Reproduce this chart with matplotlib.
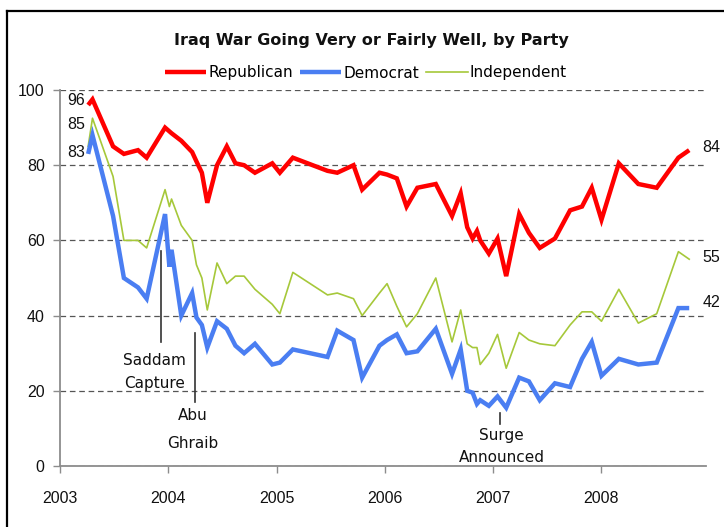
import matplotlib
matplotlib.use("Agg")
import matplotlib.pyplot as plt
from matplotlib.lines import Line2D

# ---------------- data ----------------
dates = [2003.26, 2003.30, 2003.49, 2003.59, 2003.72, 2003.80, 2003.97, 2004.01, 2004.03,
         2004.12, 2004.22, 2004.26, 2004.31, 2004.36, 2004.45, 2004.54, 2004.62, 2004.70,
         2004.80, 2004.96, 2005.03, 2005.15, 2005.47, 2005.56, 2005.71, 2005.79, 2005.95,
         2006.02, 2006.11, 2006.20, 2006.30, 2006.47, 2006.62, 2006.70, 2006.76, 2006.81,
         2006.85, 2006.88, 2006.96, 2007.04, 2007.12, 2007.24, 2007.33, 2007.43, 2007.57,
         2007.71, 2007.82, 2007.91, 2008.00, 2008.16, 2008.34, 2008.51, 2008.71, 2008.81]

republican = [96, 97.5, 85, 83, 84, 82, 90, 89, 88.5, 86.5, 83.5, 81, 78, 70, 80, 85, 80.5, 80,
              78, 80.5, 78, 82, 78.5, 78, 80, 73.5, 78, 77.5, 76.5, 69, 74, 75, 66.5, 72.5,
              63.5, 60.5, 62.5, 60, 56.5, 60.5, 50.5, 67, 62, 58, 60.5, 68, 69, 74, 65.5,
              80.5, 75, 74, 82, 84]

democrat = [83, 88, 66.5, 50, 47.5, 44.5, 67, 53, 57.5, 40, 46, 39.5, 37.5, 31.5, 38.5, 36.5,
            32, 30, 32.5, 27, 27.5, 31, 29, 36, 33.5, 23.5, 32, 33.5, 35, 30, 30.5, 36.5,
            24.5, 31, 20, 19.5, 16.5, 17.5, 16, 18.5, 15.5, 23.5, 22.5, 17.5, 22, 21, 28.5,
            33, 24, 28.5, 27, 27.5, 42, 42]

independent = [85, 92.5, 77, 60, 60, 58, 73.5, 69, 71, 64, 60, 53.5, 50, 41.5, 54, 48.5, 50.5,
               50.5, 47, 43, 40.5, 51.5, 45.5, 46, 44.5, 40, 46, 48.5, 42.5, 37, 40.5, 50, 33,
               41.5, 32.5, 31.5, 31.5, 27, 30, 35, 26, 35.5, 33.5, 32.5, 32, 37.5, 41, 41,
               38.5, 47, 38, 40.5, 57, 55]

series_names = ["Republican", "Democrat", "Independent"]
start_labels = ["96", "85", "83"]
end_labels = ["84", "55", "42"]
year_ticks = [2003, 2004, 2005, 2006, 2007, 2008]
y_ticks = [0, 20, 40, 60, 80, 100]

# ---------------- figure ----------------
W, H = 724, 527
fig = plt.figure(figsize=(W / 100, H / 100), dpi=100)
fig.patch.set_facecolor("white")

ax = fig.add_axes([60 / W, 1 - 466 / H, (706 - 60) / W, (466 - 90) / H])
ax.set_xlim(2003, 2008.965)
ax.set_ylim(0, 100)

RED = "#ff0000"
BLUE = "#4a7ef2"
GREEN = "#a6c83a"

l_r, = ax.plot(dates, republican, color=RED, lw=3.2, solid_joinstyle="miter",
               solid_capstyle="butt", zorder=4, label=series_names[0])
l_d, = ax.plot(dates, democrat, color=BLUE, lw=3.2, solid_joinstyle="miter",
               solid_capstyle="butt", zorder=4, label=series_names[1])
l_i, = ax.plot(dates, independent, color=GREEN, lw=1.2, zorder=3, label=series_names[2])

# grid & spines
ax.set_yticks(y_ticks)
ax.set_xticks(year_ticks)
ax.grid(axis="y", linestyle=(0, (4.5, 3)), color="#555555", lw=0.9)
ax.grid(axis="x", visible=False)
ax.set_axisbelow(True)
for s in ["top", "right"]:
    ax.spines[s].set_visible(False)
for s in ["left", "bottom"]:
    ax.spines[s].set_color("#8c8c8c")
    ax.spines[s].set_linewidth(1.3)

tickfont = "Liberation Sans"
ax.tick_params(axis="y", length=5, width=1, color="#8c8c8c", pad=6,
               labelsize=11.5, labelcolor="#111111")
ax.tick_params(axis="x", length=5, width=1, color="#8c8c8c", pad=13,
               labelsize=11.5, labelcolor="#111111")
for lab in ax.get_xticklabels() + ax.get_yticklabels():
    lab.set_fontfamily(tickfont)

# start and end value labels
for lbl, yv in zip(start_labels, [97.3, 90.7, 83.5]):
    ax.text(2003.235, yv, lbl, ha="right", va="center", fontsize=11.5,
            family=tickfont, color="#111111")
for lbl, yv in zip(end_labels, [84.8, 55.5, 43.5]):
    ax.text(2008.93, yv, lbl, ha="left", va="center", fontsize=11.5, family=tickfont,
            color="#111111", clip_on=False)

# event annotations
anno_kw = dict(ha="center", va="center", fontsize=11, family="DejaVu Sans", color="#111111")
ax.plot([2003.93, 2003.93], [57.1, 32.9], color="#333333", lw=1.2, zorder=2)
ax.text(2003.87, 28.0, "Saddam", **anno_kw)
ax.text(2003.87, 22.0, "Capture", **anno_kw)

ax.plot([2004.25, 2004.25], [35.5, 16.9], color="#333333", lw=1.2, zorder=2)
ax.text(2004.23, 13.3, "Abu", **anno_kw)
ax.text(2004.23, 5.9, "Ghraib", **anno_kw)

ax.plot([2007.06, 2007.06], [14.2, 11.3], color="#333333", lw=1.2, zorder=2)
ax.text(2007.08, 8.0, "Surge", **anno_kw)
ax.text(2007.08, 2.2, "Announced", **anno_kw)

# title
fig.text(371 / W, 1 - 40 / H, "Iraq War Going Very or Fairly Well, by Party",
         ha="center", va="center", fontsize=11.5, fontweight="bold",
         family="DejaVu Sans", color="#111111")

# legend
leg = fig.legend(handles=[l_r, l_d, l_i], loc="center", bbox_to_anchor=(366 / W, 1 - 73 / H),
                 ncol=3, frameon=False, fontsize=11, handlelength=2.7,
                 handletextpad=0.15, columnspacing=0.45, borderpad=0.1)
for t in leg.get_texts():
    t.set_fontfamily("DejaVu Sans")

# outer border (top and left visible)
fig.add_artist(Line2D([7 / W, 1.0], [1 - 11 / H, 1 - 11 / H], color="black", lw=1.6,
                      transform=fig.transFigure))
fig.add_artist(Line2D([7 / W, 7 / W], [1 - 11 / H, 0.0], color="black", lw=1.6,
                      transform=fig.transFigure))

fig.savefig("out.png", dpi=100)
